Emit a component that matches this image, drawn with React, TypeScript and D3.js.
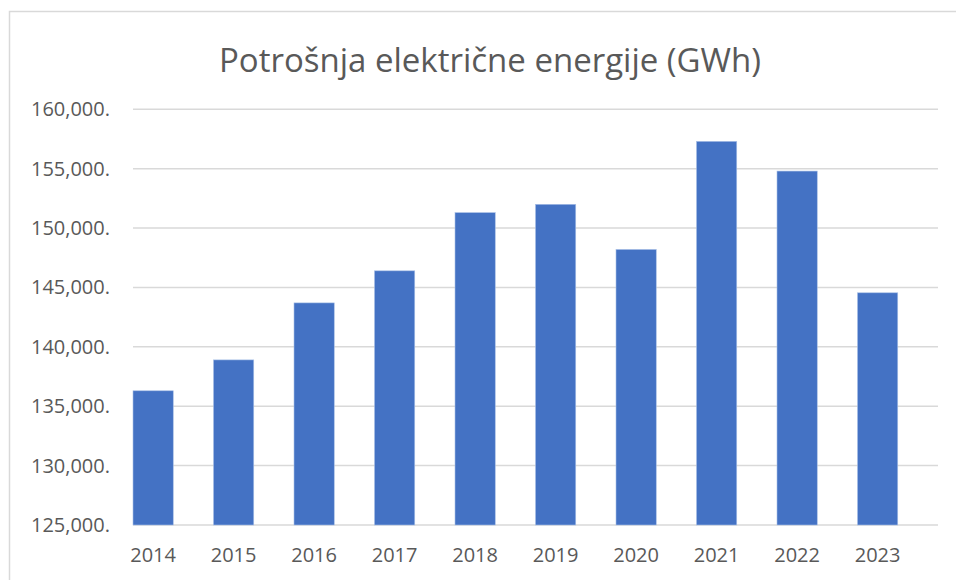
import React, { useEffect, useRef } from 'react';
import * as d3 from 'd3';

const years: string[] = ['2014', '2015', '2016', '2017', '2018', '2019', '2020', '2021', '2022', '2023'];
const consumption: number[] = [136300, 138900, 143700, 146400, 151300, 152000, 148200, 157300, 154800, 144550];
const yTicks: number[] = [125000, 130000, 135000, 140000, 145000, 150000, 155000, 160000];
const title = 'Potrošnja električne energije (GWh)';

const W = 956;
const H = 580;

const Chart: React.FC = () => {
    const svgRef = useRef<SVGSVGElement>(null);

    useEffect(() => {
        document.documentElement.style.overflow = 'hidden';
        document.body.style.overflow = 'hidden';
        if (!svgRef.current) return;
        const svg = d3.select(svgRef.current);
        svg.selectAll('*').remove();

        const font = '"Open Sans", "Noto Sans", sans-serif';
        const grey = '#595959';

        // chart frame (runs off the right and bottom edge)
        svg.append('path')
            .attr('d', `M${W + 5},11.5 H9.5 V${H + 5}`)
            .attr('fill', 'none')
            .attr('stroke', '#d9d9d9').attr('stroke-width', 1.5);

        const x = d3.scaleBand<string>()
            .domain(years)
            .range([133, 938])
            .paddingInner(0.5)
            .paddingOuter(0.25)
            .align(0);

        const y = d3.scaleLinear()
            .domain([125000, 160000])
            .range([525, 109.3]);

        // gridlines
        svg.append('g')
            .selectAll('line')
            .data(yTicks)
            .join('line')
            .attr('x1', 133)
            .attr('x2', 938)
            .attr('y1', d => y(d))
            .attr('y2', d => y(d))
            .style('stroke', '#d9d9d9')
            .style('stroke-width', 1.5);

        // bars
        svg.append('g')
            .selectAll('rect')
            .data(consumption)
            .join('rect')
            .attr('x', (d, i) => x(years[i]) as number)
            .attr('y', d => y(d))
            .attr('width', x.bandwidth())
            .attr('height', d => y(125000) - y(d))
            .attr('fill', '#4472C4')
            .attr('stroke', '#a8bfe6')
            .attr('stroke-width', 0.6);

        // y labels
        const fmt = d3.format(',');
        svg.append('g')
            .selectAll('text')
            .data(yTicks)
            .join('text')
            .attr('x', 110)
            .attr('y', d => y(d))
            .attr('dy', '0.35em')
            .attr('text-anchor', 'end')
            .style('font-family', font)
            .style('font-size', '20px')
            .style('fill', grey)
            .text(d => fmt(d) + '.');

        // x labels
        svg.append('g')
            .selectAll('text')
            .data(years)
            .join('text')
            .attr('x', d => (x(d) as number) + x.bandwidth() / 2)
            .attr('y', 562)
            .attr('text-anchor', 'middle')
            .style('font-family', font)
            .style('font-size', '20px')
            .style('fill', grey)
            .text(d => d);

        svg.append('text')
            .attr('x', 490)
            .attr('y', 72)
            .attr('text-anchor', 'middle')
            .style('font-family', font)
            .style('font-size', '33px')
            .style('fill', grey)
            .text(title);
    }, []);

    return (
        <svg
            ref={svgRef}
            width={W}
            height={H}
            style={{ position: 'absolute', left: 0, top: 0, display: 'block', background: 'white' }}
        />
    );
};

const App: React.FC = () => {
    return <Chart />;
};

export default App;
